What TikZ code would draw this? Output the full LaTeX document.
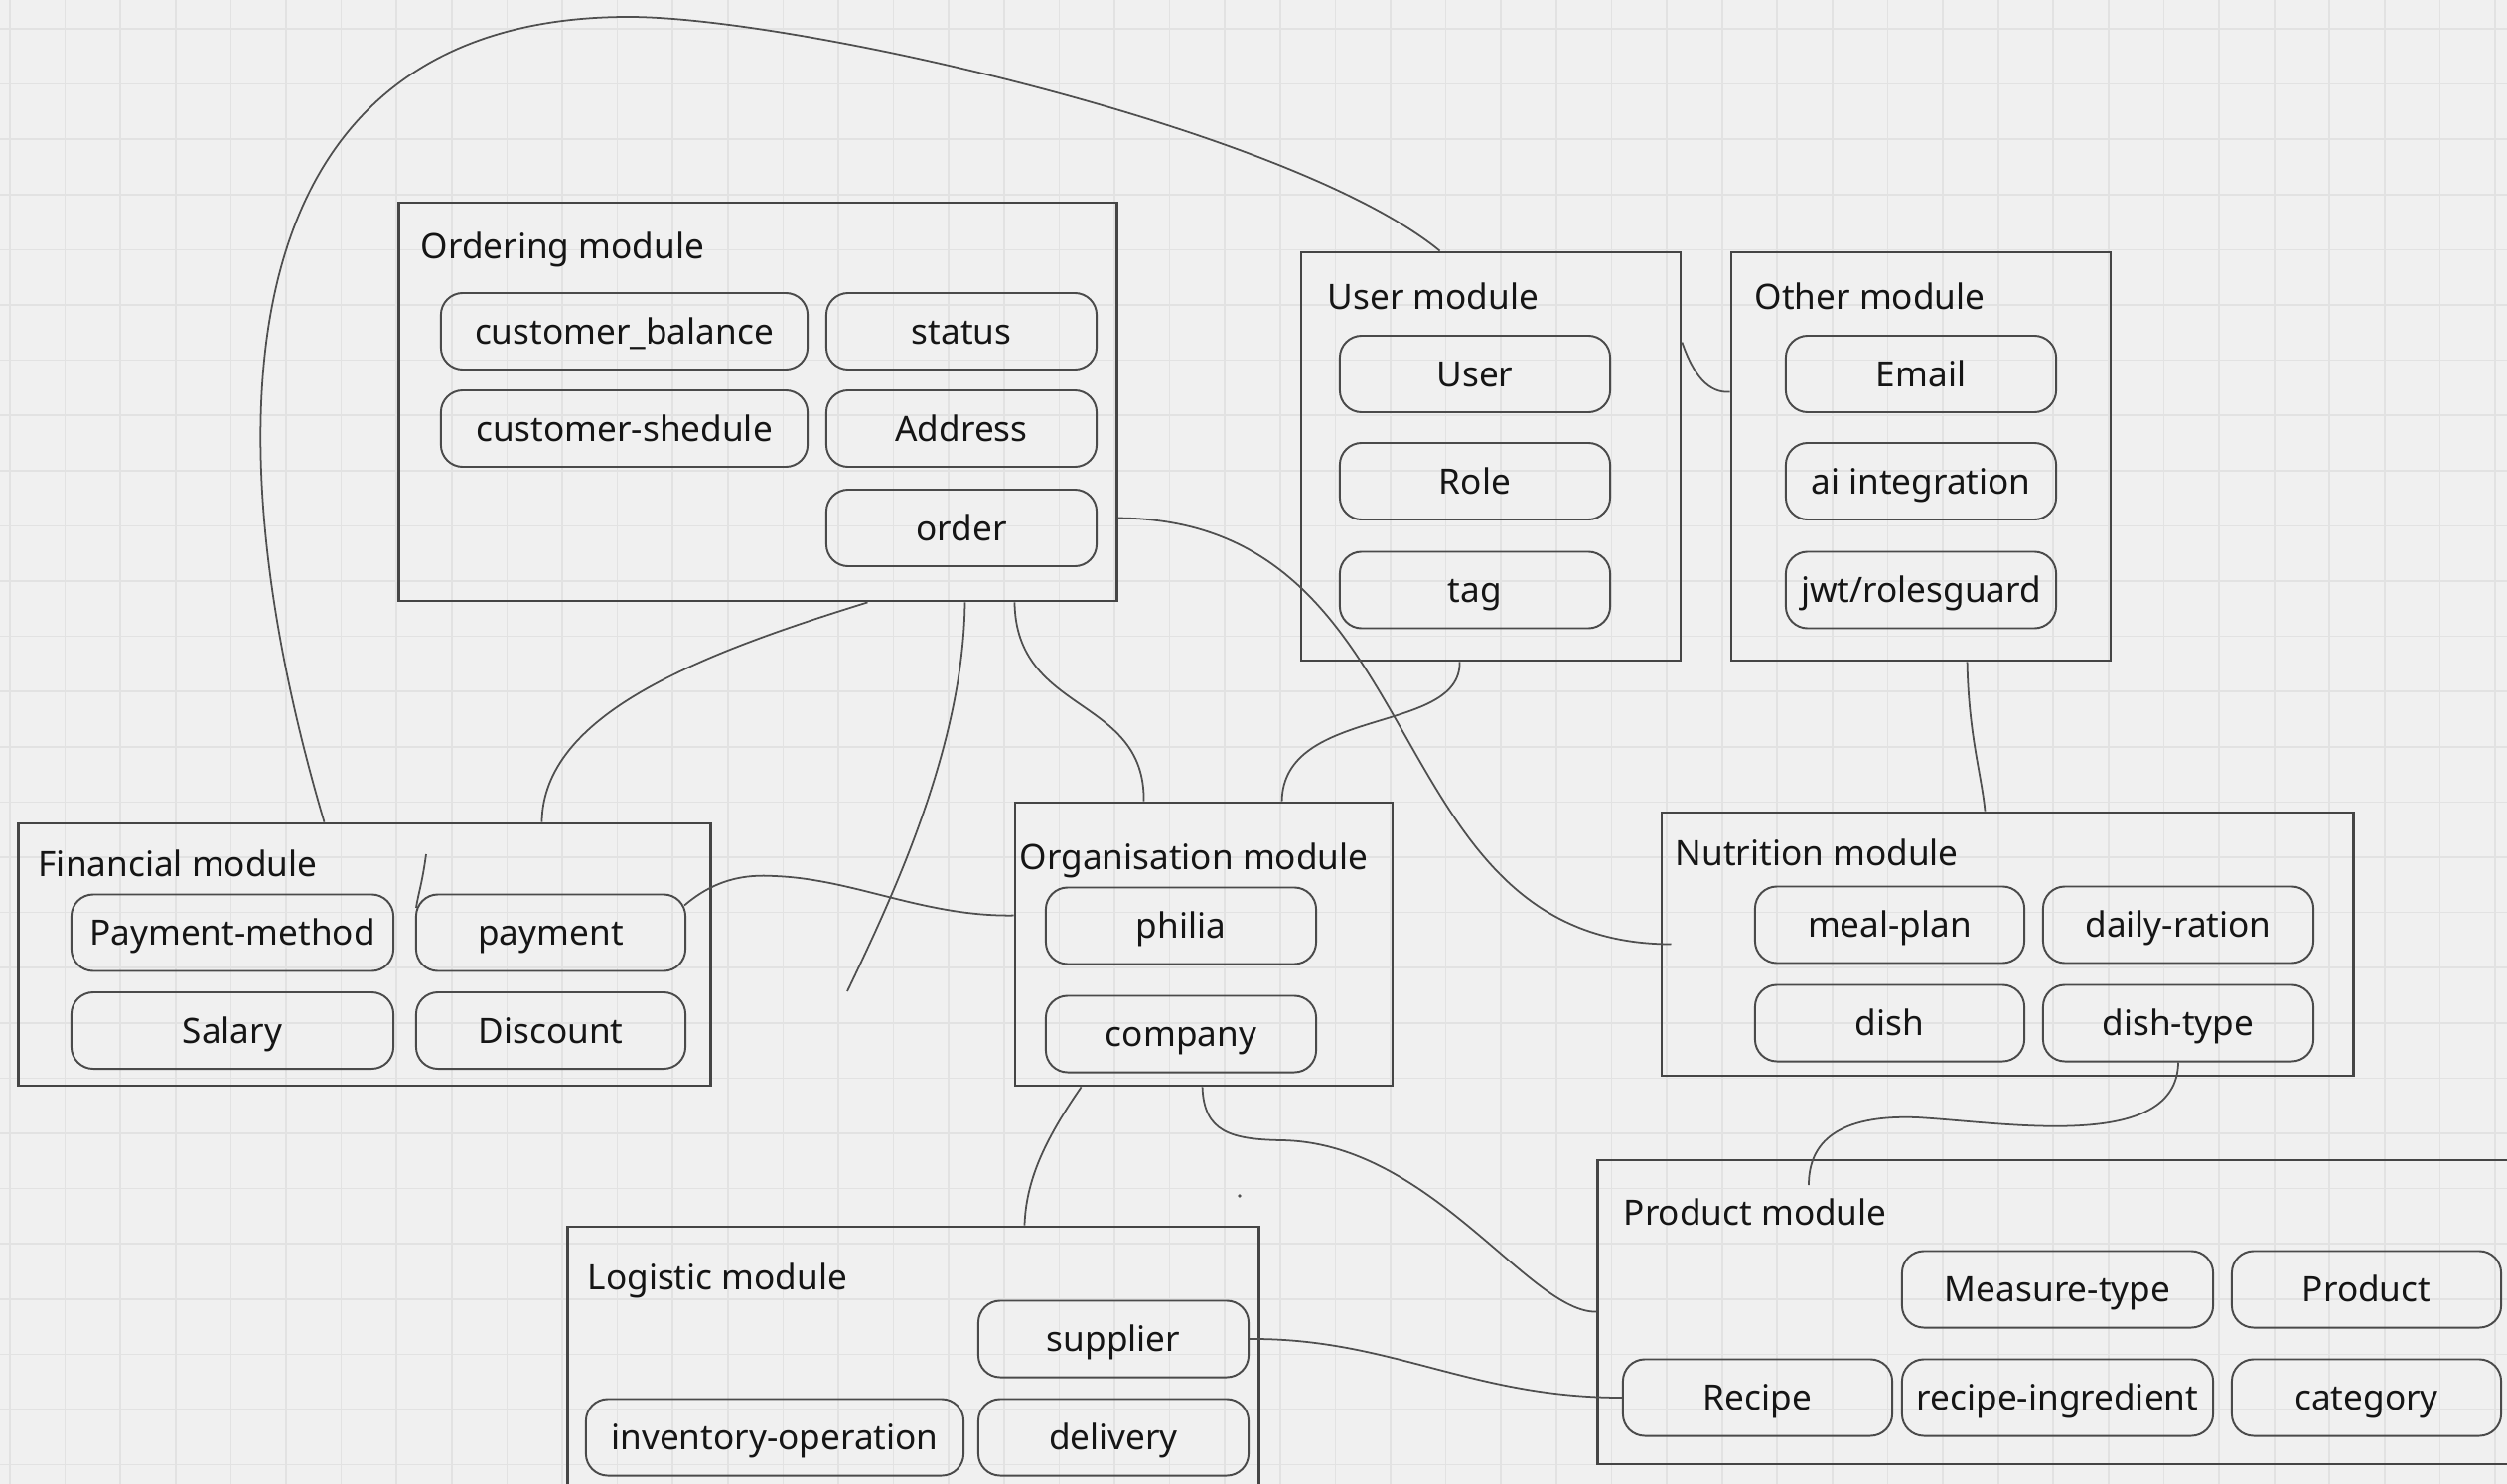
\documentclass[tikz,border=0pt]{standalone}
\usepackage{fontspec}
\setmainfont{Noto Sans}
\usetikzlibrary{calc}
\definecolor{bgc}{HTML}{F0F0F0}
\definecolor{gridc}{HTML}{E2E2E2}
\definecolor{boxc}{HTML}{454545}
\definecolor{pillc}{HTML}{4A4A4A}
\definecolor{connc}{HTML}{4F4F4F}
\definecolor{txt}{HTML}{151515}
\begin{document}
\begin{tikzpicture}[x=0.01cm,y=-0.01cm,
  every node/.style={font=\fontsize{10}{12}\selectfont, text=txt},
  module/.style={draw=boxc, line width=0.75pt, inner sep=0pt},
  pill/.style={draw=pillc, line width=0.55pt, rounded corners=0.22cm, minimum height=0.77cm, inner sep=0pt, text height=0.25cm, text depth=0pt},
  mlabel/.style={anchor=base west, inner sep=0pt},
  conn/.style={draw=connc, line width=0.5pt},
  gridline/.style={draw=gridc, line width=0.5pt}]
% background and grid
\fill[bgc] (0,0) rectangle (2524,1494);
\clip (0,0) rectangle (2524,1494);
\foreach \k in {0,...,45} \draw[gridline] (10+\k*55.6,0) -- (10+\k*55.6,1494);
\foreach \k in {0,...,26} \draw[gridline] (0,29+\k*55.6) -- (2524,29+\k*55.6);

% ---------- modules ----------
\node[module, minimum width=7.22cm, minimum height=4.01cm] (ord) at (763,404.5) {};
\node[mlabel] (ordl) at (423,261) {Ordering module};
\node[pill, minimum width=3.69cm] (cb) at (628.5,333.5) {customer\_balance};
\node[pill, minimum width=2.72cm] (st) at (968,333.5) {status};
\node[pill, minimum width=3.69cm] (cs) at (628.5,431.5) {customer-shedule};
\node[pill, minimum width=2.72cm] (ad) at (968,431.5) {Address};
\node[pill, minimum width=2.72cm] (od) at (968,531.5) {order};

\node[module, minimum width=3.82cm, minimum height=4.11cm] (usr) at (1501,459.5) {};
\node[mlabel] (usrl) at (1336,311) {User module};
\node[pill, minimum width=2.72cm] (us) at (1485,376.5) {User};
\node[pill, minimum width=2.72cm] (ro) at (1485,484.5) {Role};
\node[pill, minimum width=2.72cm] (tg) at (1485,594) {tag};

\node[module, minimum width=3.82cm, minimum height=4.11cm] (oth) at (1934,459.5) {};
\node[mlabel] (othl) at (1766,311) {Other module};
\node[pill, minimum width=2.72cm] (em) at (1934,376.5) {Email};
\node[pill, minimum width=2.72cm] (ai) at (1934,484.5) {ai integration};
\node[pill, minimum width=2.72cm] (jw) at (1934,594) {jwt/rolesguard};

\node[module, minimum width=6.96cm, minimum height=2.64cm] (fin) at (367,961) {};
\node[mlabel] (finl) at (38,882) {Financial module};
\node[pill, minimum width=3.24cm] (pm) at (234,939) {Payment-method};
\node[pill, minimum width=2.71cm] (pay) at (554.5,939) {payment};
\node[pill, minimum width=3.24cm] (sal) at (234,1037.5) {Salary};
\node[pill, minimum width=2.71cm] (dis) at (554.5,1037.5) {Discount};

\node[module, minimum width=3.80cm, minimum height=2.85cm] (org) at (1212,950.5) {};
\node[mlabel] (orgl) at (1026,875) {Organisation module};
\node[pill, minimum width=2.72cm] (ph) at (1189,932) {philia};
\node[pill, minimum width=2.72cm] (co) at (1189,1041) {company};

\node[module, minimum width=6.96cm, minimum height=2.65cm] (nut) at (2021,950.5) {};
\node[mlabel] (nutl) at (1686,871) {Nutrition module};
\node[pill, minimum width=2.71cm] (mp) at (1902.5,931) {meal-plan};
\node[pill, minimum width=2.72cm] (dr) at (2193,931) {daily-ration};
\node[pill, minimum width=2.71cm] (dh) at (1902.5,1030) {dish};
\node[pill, minimum width=2.72cm] (dt) at (2193,1030) {dish-type};

\node[module, minimum width=9.51cm, minimum height=3.06cm] (prod) at (2084.5,1321) {};
\node[mlabel] (prodl) at (1634,1233) {Product module};
\node[pill, minimum width=3.13cm] (mt) at (2071.5,1298) {Measure-type};
\node[pill, minimum width=2.71cm] (pr) at (2382.5,1298) {Product};
\node[pill, minimum width=2.71cm] (rc) at (1769.5,1407) {Recipe};
\node[pill, minimum width=3.13cm] (ri) at (2071.5,1407) {recipe-ingredient};
\node[pill, minimum width=2.71cm] (ca) at (2382.5,1407) {category};

\node[module, minimum width=6.95cm, minimum height=3.05cm] (log) at (919.5,1387.5) {};
\node[mlabel] (logl) at (591,1298) {Logistic module};
\node[pill, minimum width=2.72cm] (sp) at (1121,1348) {supplier};
\node[pill, minimum width=3.80cm] (io) at (780,1447) {inventory-operation};
\node[pill, minimum width=2.72cm] (dl) at (1121,1447) {delivery};

% ---------- free ends ----------
\coordinate (dang) at (853,998);
\coordinate (pend) at (1821,1193);
\coordinate (stray) at (429,860);

% ---------- connectors ----------
\draw[conn] ($(fin.north west)+(309,0)$) .. controls (200,400) and (240,17) .. (633,17)
  .. controls (800,17) and (1300,130) .. ($(usr.north west)+(141,0)$);
\draw[conn] ($(ord.south west)+(473,0)$) .. controls (700,660) and (547,720) .. ($(fin.north west)+(528,0)$);
\draw[conn] ($(ord.south west)+(571,0)$) .. controls (970,750) and (900,900) .. (dang);
\draw[conn] ($(ord.south west)+(621,0)$) .. controls (1023,720) and (1153,700) .. ($(org.north west)+(131,0)$);
\draw[conn] ($(usr.south west)+(161,0)$) .. controls (1471,740) and (1292,710) .. ($(org.north west)+(270,0)$);
\draw[conn] ($(ord.north east)+(0,319)$) .. controls (1450,523) and (1380,950) .. ($(nut.west)+(11,0)$);
\draw[conn] ($(usr.north east)+(0,92)$) .. controls (1705,378) and (1720,396) .. ($(oth.north west)+(0,142)$);
\draw[conn] ($(oth.south west)+(239,0)$) .. controls (1982,740) and (1995,780) .. ($(nut.north west)+(327,0)$);
\draw[conn] ($(pay.north east)+(-2,12)$) .. controls (720,885) and (750,880) .. (780,882)
  .. controls (860,885) and (930,923) .. ($(org.north west)+(0,115)$);
\draw[conn] ($(org.south west)+(68,0)$) .. controls (1050,1150) and (1033,1190) .. ($(log.north west)+(461,0)$);
\draw[conn] ($(org.south west)+(190,0)$) .. controls (1212,1140) and (1240,1147) .. (1290,1148)
  .. controls (1440,1150) and (1540,1322) .. ($(prod.north west)+(0,154)$);
\draw[conn] (dt.south) .. controls (2192,1160) and (2020,1130) .. (1930,1125)
  .. controls (1850,1122) and (1821,1150) .. (pend);
\draw[conn] (sp.east) .. controls (1400,1347) and (1480,1407) .. (rc.west);
\draw[conn] (stray) .. controls (425,890) and (421,900) .. ($(pay.west)+(1,-25)$);
\fill[connc] (1248,1204) circle (0.018cm);
\end{tikzpicture}
\end{document}
